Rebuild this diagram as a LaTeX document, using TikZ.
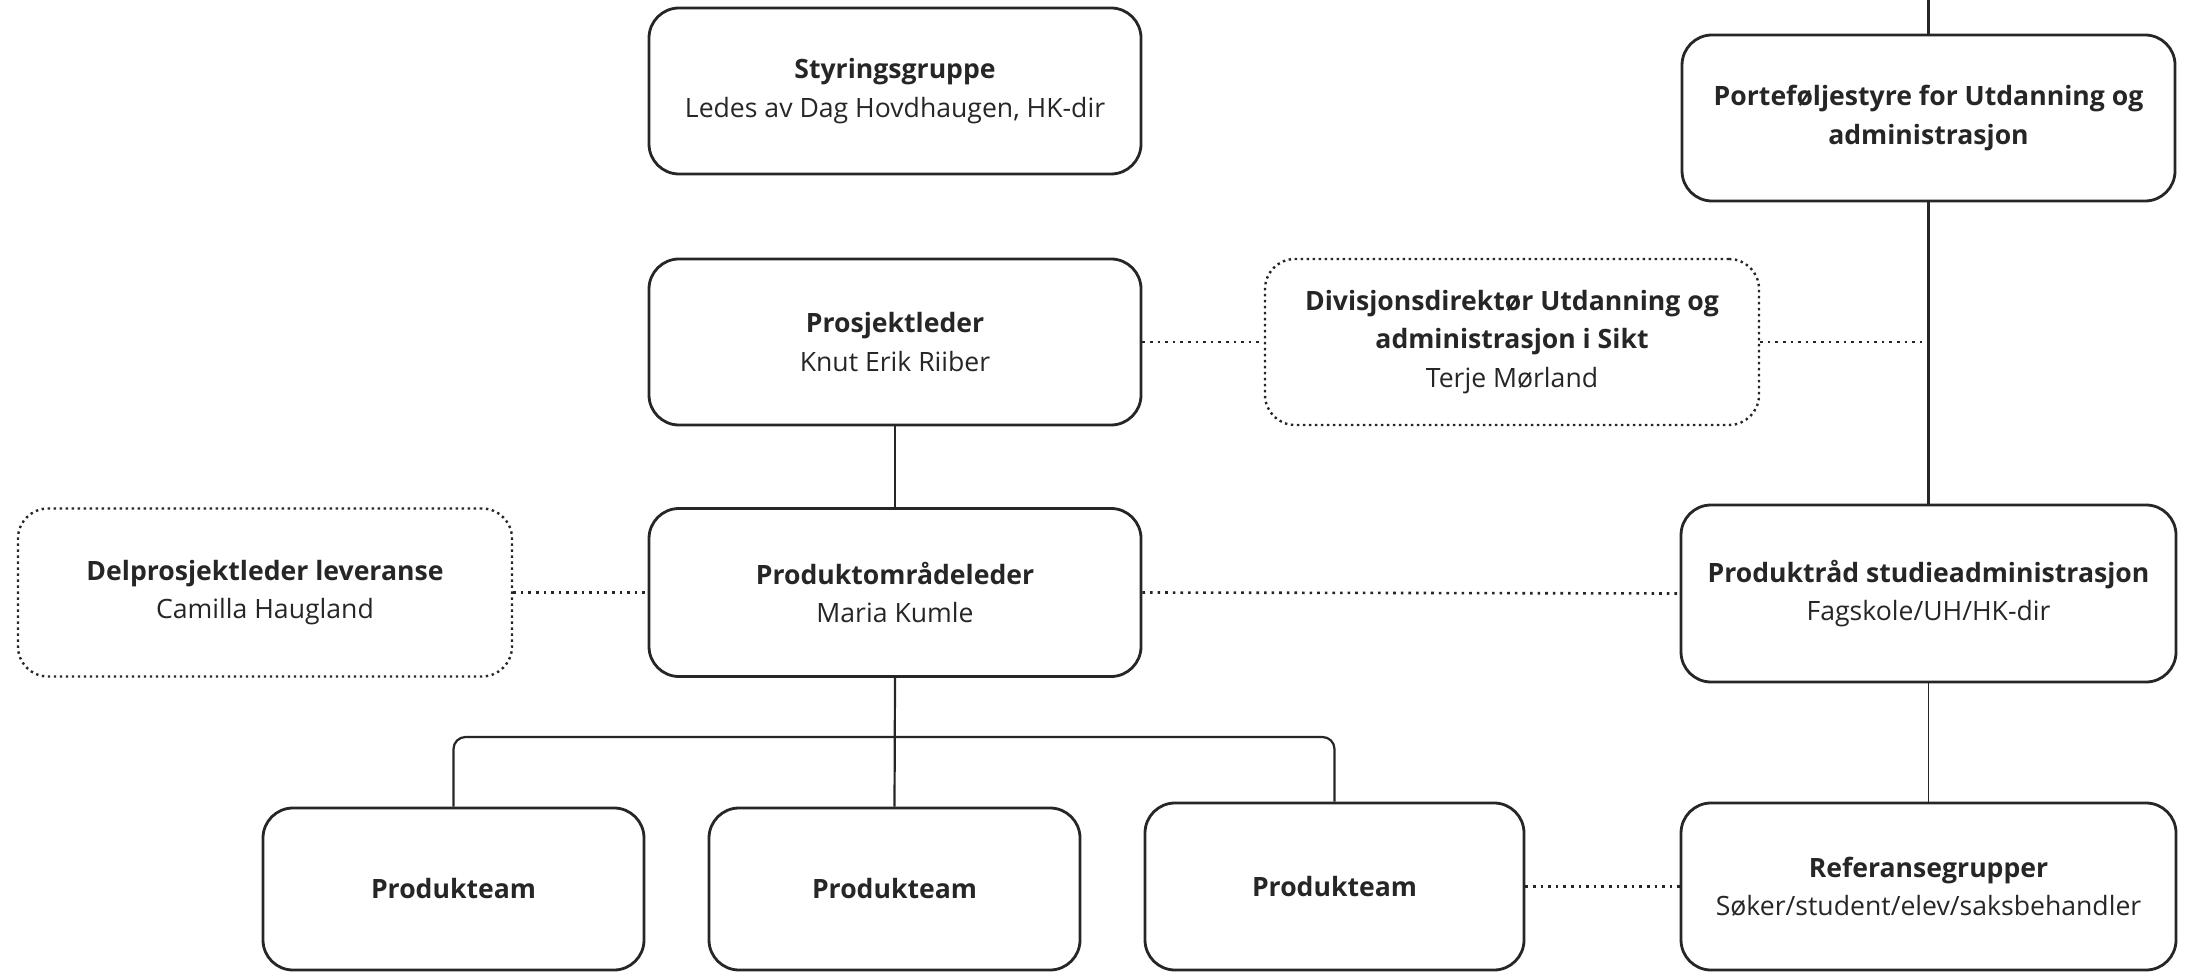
\documentclass[tikz,border=0pt]{standalone}
\usepackage{fontspec}
\setmainfont{Open Sans}
\definecolor{ink}{HTML}{262626}
\begin{document}
\begin{tikzpicture}[x=0.5pt,y=-0.5pt,
  box/.style={draw=ink, line width=1.4pt, rounded corners=15pt, align=center,
    text=ink, inner sep=0pt, font=\fontsize{13.3pt}{19.2pt}\selectfont},
  sz/.style 2 args={minimum width=#1*0.5pt, minimum height=#2*0.5pt},
  dbox/.style={box, line width=1.2pt, dash pattern=on 1.2pt off 1.8pt},
  link/.style={draw=ink, line width=1.1pt},
  thinlink/.style={draw=ink, line width=0.8pt},
  dotlink/.style={draw=ink, line width=1.3pt, dash pattern=on 1.3pt off 2.5pt}]
\useasboundingbox (0,0) rectangle (2187,972);
% nodes
\node[box, sz={492}{166}] (sty) at (895,91) {\textbf{Styringsgruppe}\\Ledes av Dag Hovdhaugen, HK-dir};
\node[box, sz={492}{166}] (pro) at (895,342) {\textbf{Prosjektleder}\\Knut Erik Riiber};
\node[box, sz={492}{168}] (pol) at (895,592.5) {\textbf{Produktområdeleder}\\Maria Kumle};
\node[dbox, sz={494}{168}] (del) at (265,592.5) {\textbf{Delprosjektleder leveranse}\\Camilla Haugland};
\node[dbox, sz={494}{166}] (div) at (1512,342) {\textbf{Divisjonsdirektør Utdanning og}\\\textbf{administrasjon i Sikt}\\Terje Mørland};
\node[box, sz={493}{166}] (port) at (1928.5,118) {\textbf{Porteføljestyre for Utdanning og}\\\textbf{administrasjon}};
\node[box, sz={495}{177}] (rad) at (1928.5,593.5) {\textbf{Produktråd studieadministrasjon}\\Fagskole/UH/HK-dir};
\node[box, sz={495}{167}] (ref) at (1928.5,886.5) {\textbf{Referansegrupper}\\Søker/student/elev/saksbehandler};
\node[box, sz={381}{162}] (pt1) at (453.5,889) {\textbf{Produkteam}};
\node[box, sz={371}{162}] (pt2) at (894.5,889) {\textbf{Produkteam}};
\node[box, sz={379}{167}] (pt3) at (1334.5,886.5) {\textbf{Produkteam}};
% coordinates
\coordinate (ptop) at (1928.5,0);
\coordinate (pj) at (1928.5,342);
\coordinate (busL) at (453.5,737);
\coordinate (busR) at (1334.5,737);
% connectors
\draw[link] (ptop) -- (port.north);
\draw[link] (port.south) -- (rad.north);
\draw[dotlink] (div.east) -- (pj);
\draw[dotlink] (pro.east) -- (div.west);
\draw[link] (pro.south) -- (pol.north);
\draw[dotlink] (del.east) -- (pol.west);
\draw[dotlink] (pol.east) -- (rad.west);
\draw[link] (pol.south) -- (pt2.north);
\draw[link, rounded corners=6pt] (pt1.north) -- (busL) -- (busR) -- (pt3.north);
\draw[thinlink] (rad.south) -- (ref.north);
\draw[dotlink] (pt3.east) -- (ref.west);
\end{tikzpicture}
\end{document}
